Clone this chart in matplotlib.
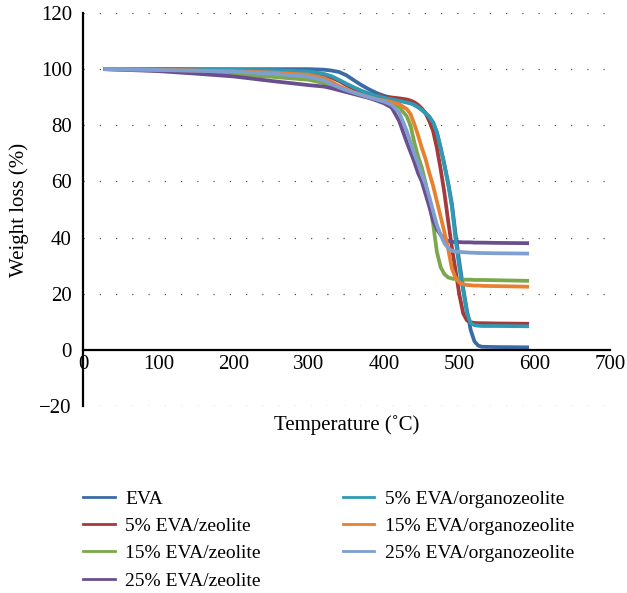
import numpy as np
import matplotlib
matplotlib.use("Agg")
import matplotlib.pyplot as plt

plt.rcParams['font.family'] = ['Liberation Serif', 'DejaVu Serif']

# temperatures (deg C) at which the curves were read
temps = [30, 100, 150, 200, 250, 300, 320, 330, 340, 350, 360, 370, 380, 390, 400, 410,
         420, 430, 435, 440, 445, 450, 455, 460, 465, 470, 475, 480, 485, 490, 495, 500,
         505, 510, 515, 520, 525, 530, 550, 590]

# weight (%)
eva = [100, 100, 100, 100, 100, 100, 99.8, 99.5, 99, 97.8, 96, 94.3, 92.8, 91.5, 90.5, 89.7,
       89, 88.3, 88, 87.3, 86.5, 85.5, 84.3, 83, 81, 77.5, 72, 66, 59.5, 52, 41, 31,
       22, 14, 7, 3, 1.5, 1.1, 1.0, 0.9]
zeo5 = [100, 100, 99.8, 99.6, 99.3, 98.8, 97.8, 97, 95.8, 94.3, 93, 92, 91.2, 90.6, 90.2, 89.9,
        89.6, 89.2, 88.8, 88.2, 87.3, 86, 84.3, 81.5, 78, 72, 64.5, 56, 46, 36.5, 28, 19.5,
        13, 10.5, 9.8, 9.6, 9.5, 9.5, 9.4, 9.3]
zeo15 = [100, 99.5, 98.8, 98, 97.3, 96.2, 95, 94.3, 93.3, 92.4, 91.5, 90.7, 89.9, 89.2, 88.6, 87.8,
         86.5, 83.2, 80, 74, 69, 65, 59.5, 53, 45, 35, 29.5, 27, 25.8, 25.4, 25.2, 25.1,
         25, 25, 25, 24.9, 24.9, 24.9, 24.8, 24.6]
zeo25 = [100, 99.3, 98.4, 97.4, 95.8, 94.3, 93.8, 93.2, 92.5, 91.8, 91.1, 90.4, 89.7, 88.8, 87.8, 86.3,
         81.5, 74, 70.5, 67, 63, 60, 55.5, 51, 46, 43, 41, 39.5, 38.8, 38.5, 38.4, 38.4,
         38.3, 38.3, 38.3, 38.2, 38.2, 38.2, 38.1, 38.0]
org5 = [100, 100, 99.9, 99.8, 99.6, 99.2, 98.3, 97.5, 96.2, 94.8, 93.5, 92.3, 91.3, 90.5, 89.8, 89.2,
        88.7, 88.1, 87.8, 87.3, 86.5, 85.5, 84.3, 83, 81, 77.5, 72, 66, 59, 51, 39, 29,
        21, 13, 9.5, 8.8, 8.6, 8.5, 8.5, 8.4]
org15 = [100, 99.8, 99.5, 99.2, 98.8, 98, 96.8, 95.5, 94, 92.8, 91.7, 90.8, 90, 89.3, 88.8, 88.3,
         87.5, 85.8, 84, 80.5, 76.5, 72, 68, 63, 58.5, 53, 47.5, 42, 36, 29, 25.5, 24,
         23.4, 23.1, 23, 22.9, 22.9, 22.8, 22.7, 22.5]
org25 = [100, 99.7, 99.4, 99.1, 98.4, 97.3, 96, 94.7, 93.5, 92.5, 91.6, 90.8, 90, 89.2, 88.4, 87.3,
         84.5, 78, 74, 70, 66.5, 62.5, 59, 54.5, 49.5, 44.5, 41, 38, 36.3, 35.3, 35, 34.9,
         34.8, 34.7, 34.6, 34.6, 34.5, 34.5, 34.4, 34.3]

series = [
    ("EVA", eva, "#3b6ba5"),
    ("5% EVA/zeolite", zeo5, "#a5393b"),
    ("15% EVA/zeolite", zeo15, "#7ba84a"),
    ("25% EVA/zeolite", zeo25, "#6a4e8f"),
    ("5% EVA/organozeolite", org5, "#2f9ab3"),
    ("15% EVA/organozeolite", org15, "#e8812f"),
    ("25% EVA/organozeolite", org25, "#7e9fd0"),
]

fig = plt.figure(figsize=(6.27, 5.93), dpi=100)
ax = fig.add_axes([83 / 627, 187 / 593, 527 / 627, 393 / 593])

# dotted grid
for g in [-20, 20, 40, 60, 80, 100, 120]:
    ax.axhline(g, color="#555555", lw=0.9, linestyle=(0, (1, 12)), zorder=0)

handles = []
for name, vals, col in series:
    ax.plot(temps, vals, color=col, lw=2.7, solid_joinstyle="round", zorder=2)
    h, = ax.plot([], [], color=col, lw=2.0, label=name)
    handles.append(h)

ax.set_xlim(0, 700)
ax.set_ylim(-20, 120)
ax.set_xticks(range(0, 701, 100))
ax.set_yticks(range(-20, 121, 20))
ax.set_yticklabels(["\u221220"] + [str(v) for v in range(0, 121, 20)])

ax.spines["top"].set_visible(False)
ax.spines["right"].set_visible(False)
ax.spines["bottom"].set_position(("data", 0))
ax.spines["bottom"].set_linewidth(1.6)
ax.spines["left"].set_linewidth(1.6)
ax.tick_params(length=0, labelsize=15)
ax.tick_params(axis="x", pad=4)
ax.tick_params(axis="y", pad=8)

ax.set_xlabel("Temperature (\u02daC)", fontsize=15)
ax.xaxis.set_label_coords(0.5, -0.022)
ax.set_ylabel("Weight loss (%)", fontsize=15)
ax.yaxis.set_label_coords(-0.102, 0.5)

fig.legend(handles=handles, loc="upper left", bbox_to_anchor=(83 / 627, 103 / 593),
           ncol=2, frameon=False, fontsize=14, borderpad=0, borderaxespad=0,
           handlelength=1.63, handletextpad=0.55, labelspacing=0.5, columnspacing=4.2)

fig.savefig("out.png", dpi=100)
